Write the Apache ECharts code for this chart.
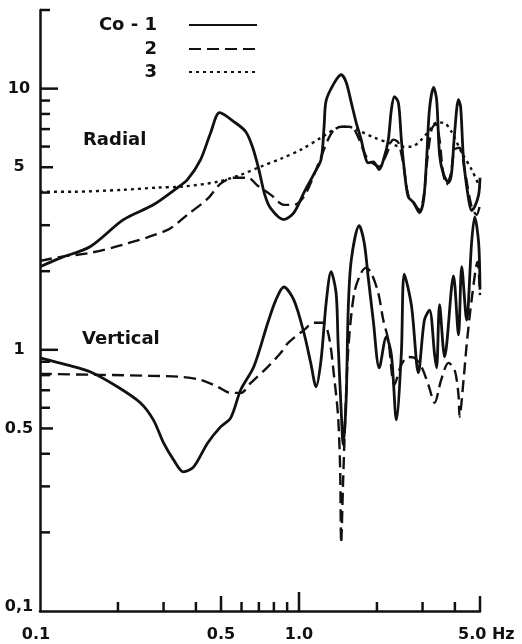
<!DOCTYPE html>
<html>
<head>
<meta charset="utf-8">
<script src="https://cdn.jsdelivr.net/npm/echarts@6/dist/echarts.min.js"></script>
<style>
  html, body { margin: 0; padding: 0; background: #fff; }
  #chart { width: 522px; height: 644px; }
</style>
</head>
<body>
<div id="chart"></div>
<script>
// [frequency Hz, amplitude]
const radialCo1 = [[0.1,2.08],[0.12,2.25],[0.156,2.48],[0.21,3.15],[0.274,3.59],[0.34,4.18],[0.371,4.48],[0.417,5.35],[0.456,6.78],[0.494,8.09],[0.56,7.48],[0.623,6.84],[0.663,5.94],[0.70,4.90],[0.738,3.92],[0.779,3.47],[0.874,3.15],[0.956,3.35],[1.045,4.00],[1.143,4.72],[1.217,5.35],[1.25,7.15],[1.273,9.0],[1.367,10.5],[1.455,11.3],[1.52,10.6],[1.592,8.84],[1.663,7.41],[1.738,6.38],[1.802,5.48],[1.85,5.20],[1.935,5.24],[2.042,4.90],[2.135,5.48],[2.213,6.38],[2.274,8.31],[2.336,9.32],[2.42,8.84],[2.485,6.38],[2.55,4.90],[2.64,3.86],[2.77,3.66],[2.92,3.35],[3.03,3.76],[3.11,5.35],[3.19,8.31],[3.31,10.1],[3.40,9.07],[3.49,5.59],[3.61,4.72],[3.78,4.37],[3.88,4.72],[3.99,6.78],[4.13,9.07],[4.21,8.5],[4.32,5.35],[4.52,3.76],[4.64,3.41],[4.77,3.53],[4.94,3.92],[5.0,4.56]];
const radialCo2 = [[0.1,2.19],[0.12,2.27],[0.156,2.35],[0.21,2.53],[0.311,2.88],[0.371,3.29],[0.444,3.79],[0.498,4.33],[0.56,4.56],[0.635,4.56],[0.693,4.25],[0.779,3.92],[0.874,3.59],[0.956,3.59],[1.045,3.86],[1.143,4.68],[1.217,5.48],[1.295,6.38],[1.367,6.97],[1.455,7.15],[1.549,7.15],[1.634,6.97],[1.708,6.38],[1.819,5.48],[1.90,5.24],[2.042,5.03],[2.174,5.59],[2.314,6.38],[2.42,6.21],[2.53,5.12],[2.64,3.92],[2.77,3.66],[2.92,3.44],[3.03,3.86],[3.13,5.35],[3.25,6.97],[3.37,7.34],[3.49,6.38],[3.58,4.98],[3.71,4.29],[3.85,4.68],[3.99,5.84],[4.17,5.94],[4.36,4.90],[4.64,3.53],[4.85,3.29],[5.0,3.59]];
const radialCo3 = [[0.1,4.03],[0.134,4.03],[0.21,4.10],[0.284,4.18],[0.358,4.22],[0.485,4.40],[0.596,4.68],[0.712,5.03],[0.851,5.39],[1.018,5.84],[1.217,6.49],[1.416,7.09],[1.549,7.15],[1.738,6.84],[1.953,6.49],[2.213,6.21],[2.485,5.99],[2.72,5.99],[2.97,6.38],[3.16,6.84],[3.40,7.41],[3.61,7.41],[3.88,6.84],[4.23,5.74],[4.64,4.90],[4.94,4.29],[5.0,4.18]];
const verticalCo1 = [[0.1,0.932],[0.127,0.876],[0.156,0.824],[0.199,0.722],[0.244,0.627],[0.274,0.539],[0.300,0.440],[0.328,0.379],[0.358,0.341],[0.392,0.356],[0.444,0.440],[0.498,0.507],[0.545,0.549],[0.596,0.703],[0.669,0.861],[0.758,1.27],[0.814,1.55],[0.874,1.74],[0.956,1.55],[1.045,1.16],[1.11,0.891],[1.164,0.722],[1.217,0.916],[1.273,1.51],[1.33,1.99],[1.391,1.65],[1.416,1.06],[1.455,0.589],[1.481,0.433],[1.521,0.643],[1.549,1.42],[1.592,2.21],[1.708,2.99],[1.786,2.57],[1.85,1.90],[1.935,1.30],[2.042,0.853],[2.174,1.12],[2.274,0.957],[2.377,0.539],[2.485,0.974],[2.55,1.95],[2.72,1.47],[2.89,0.817],[3.05,1.30],[3.19,1.42],[3.34,0.957],[3.40,0.853],[3.49,1.49],[3.65,0.939],[3.95,1.92],[4.13,1.14],[4.25,2.08],[4.44,1.30],[4.64,2.57],[4.77,3.23],[4.94,2.57],[5.0,1.70]];
const verticalCo2 = [[0.1,0.809],[0.171,0.802],[0.267,0.795],[0.348,0.788],[0.417,0.767],[0.485,0.722],[0.545,0.684],[0.596,0.684],[0.651,0.747],[0.758,0.861],[0.851,0.974],[0.906,1.06],[1.045,1.19],[1.143,1.27],[1.239,1.27],[1.306,1.12],[1.367,0.788],[1.416,0.554],[1.442,0.347],[1.455,0.182],[1.481,0.318],[1.508,0.539],[1.549,1.0],[1.634,1.65],[1.738,1.97],[1.819,2.06],[1.90,1.97],[2.024,1.65],[2.116,1.30],[2.213,1.09],[2.336,0.734],[2.485,0.876],[2.64,0.939],[2.79,0.932],[2.97,0.861],[3.16,0.734],[3.34,0.627],[3.54,0.767],[3.78,0.891],[3.99,0.838],[4.13,0.672],[4.17,0.554],[4.32,0.767],[4.44,1.045],[4.64,1.55],[4.89,2.17],[5.0,1.62]];

// axes
const xRange = [0.1, 5];
const yRange = [0.1, 20];
const yTicks = [0.2, 0.3, 0.4, 0.5, 0.6, 0.7, 0.8, 0.9, 1, 2, 3, 4, 5, 6, 7, 8, 9, 10, 20];
const yLabelValues = [0.1, 0.5, 1, 5, 10];
const yLabelTexts = ['0,1', '0.5', '1', '5', '10'];
const xTicks = [0.2, 0.3, 0.4, 0.5, 0.6, 0.7, 0.8, 0.9, 1, 2, 3, 4, 5];
const xLabelValues = [0.1, 0.5, 1, 5];
const xLabelTexts = ['0.1', '0.5', '1.0', '5.0'];
const xUnit = 'Hz';

const ink = '#111';
const font = 'DejaVu Sans';

const chart = echarts.init(document.getElementById('chart'));

function curve(name, data, dash, width) {
  return {
    name: name,
    type: 'line',
    data: data,
    smooth: 0.3,
    symbol: 'none',
    lineStyle: { color: ink, width: width, type: dash },
    itemStyle: { color: ink },
    z: 3
  };
}

// tick length in px
function yTickLen(v) {
  if (v === 10 || v === 1) return 18;
  if (v === 5 || v === 0.5) return 13;
  return 10;
}
function xTickLen(v) {
  if (v === 1) return 19;
  if (v === 5 || v === 0.5) return 15;
  return 9;
}

function legendFor(name, top) {
  return {
    data: [name],
    right: 264,
    top: top,
    padding: 0,
    align: 'right',
    itemWidth: 68,
    itemHeight: 14,
    selectedMode: false,
    itemStyle: { color: 'rgba(0,0,0,0)', opacity: 0, borderWidth: 0 },
    formatter: '{a|{name}}',
    textStyle: {
      color: ink,
      rich: { a: { fontFamily: font, fontWeight: 'bold', fontSize: 18, color: ink, padding: [0, 27, 0, 0] } }
    }
  };
}

const option = {
  animation: false,
  grid: { left: 40, right: 42, top: 10, bottom: 33 },
  legend: [legendFor('Co - 1', 16), legendFor('2', 40), legendFor('3', 63)],
  xAxis: {
    type: 'log', logBase: 10, min: xRange[0], max: xRange[1],
    axisLine: { show: true, lineStyle: { color: ink, width: 2.5 } },
    axisTick: { show: false }, axisLabel: { show: false }, splitLine: { show: false }
  },
  yAxis: {
    type: 'log', logBase: 10, min: yRange[0], max: yRange[1],
    axisLine: { show: true, lineStyle: { color: ink, width: 2.5 } },
    axisTick: { show: false }, axisLabel: { show: false }, splitLine: { show: false }
  },
  graphic: [
    { type: 'text', x: 83, y: 140, style: { text: 'Radial', fill: ink, font: 'bold 18px ' + font, verticalAlign: 'middle' } },
    { type: 'text', x: 82, y: 339, style: { text: 'Vertical', fill: ink, font: 'bold 18px ' + font, verticalAlign: 'middle' } }
  ],
  series: [
    curve('Co - 1', radialCo1, 'solid', 2.8),
    curve('2', radialCo2, [12, 6], 2.4),
    curve('3', radialCo3, [3, 4], 2.4),
    curve('Co - 1', verticalCo1, 'solid', 2.8),
    curve('2', verticalCo2, [12, 6], 2.4),
    {
      type: 'custom', name: 'yTicks', clip: false, silent: true,
      data: yTicks.map(v => [xRange[0], v]),
      renderItem: (params, api) => {
        const v = api.value(1);
        const p = api.coord([xRange[0], v]);
        return { type: 'line', shape: { x1: p[0], y1: p[1], x2: p[0] + yTickLen(v), y2: p[1] },
          style: { stroke: ink, lineWidth: 2.5 } };
      }
    },
    {
      type: 'custom', name: 'xTicks', clip: false, silent: true,
      data: xTicks.map(v => [v, yRange[0]]),
      renderItem: (params, api) => {
        const v = api.value(0);
        const p = api.coord([v, yRange[0]]);
        return { type: 'line', shape: { x1: p[0], y1: p[1], x2: p[0], y2: p[1] - xTickLen(v) },
          style: { stroke: ink, lineWidth: 2.5 } };
      }
    },
    {
      type: 'custom', name: 'yLabels', clip: false, silent: true,
      data: yLabelValues.map(v => [xRange[0], v]),
      renderItem: (params, api) => {
        const p = api.coord([xRange[0], api.value(1)]);
        return { type: 'text', x: p[0] - 21, y: p[1] - (params.dataIndex === 0 ? 4 : 0),
          style: { text: yLabelTexts[params.dataIndex], fill: ink, font: 'bold 16px ' + font,
            align: 'center', verticalAlign: 'middle' } };
      }
    },
    {
      type: 'custom', name: 'xLabels', clip: false, silent: true,
      data: xLabelValues.map(v => [v, yRange[0]]),
      renderItem: (params, api) => {
        const i = params.dataIndex;
        const p = api.coord([api.value(0), yRange[0]]);
        const last = i === xLabelValues.length - 1;
        return { type: 'text', x: last ? p[0] - 22 : p[0] - (i === 0 ? 4 : 0), y: p[1] + 24,
          style: { text: last ? xLabelTexts[i] + ' ' + xUnit : xLabelTexts[i], fill: ink,
            font: 'bold 16px ' + font, align: last ? 'left' : 'center', verticalAlign: 'middle' } };
      }
    }
  ]
};

chart.setOption(option);
</script>
</body>
</html>
